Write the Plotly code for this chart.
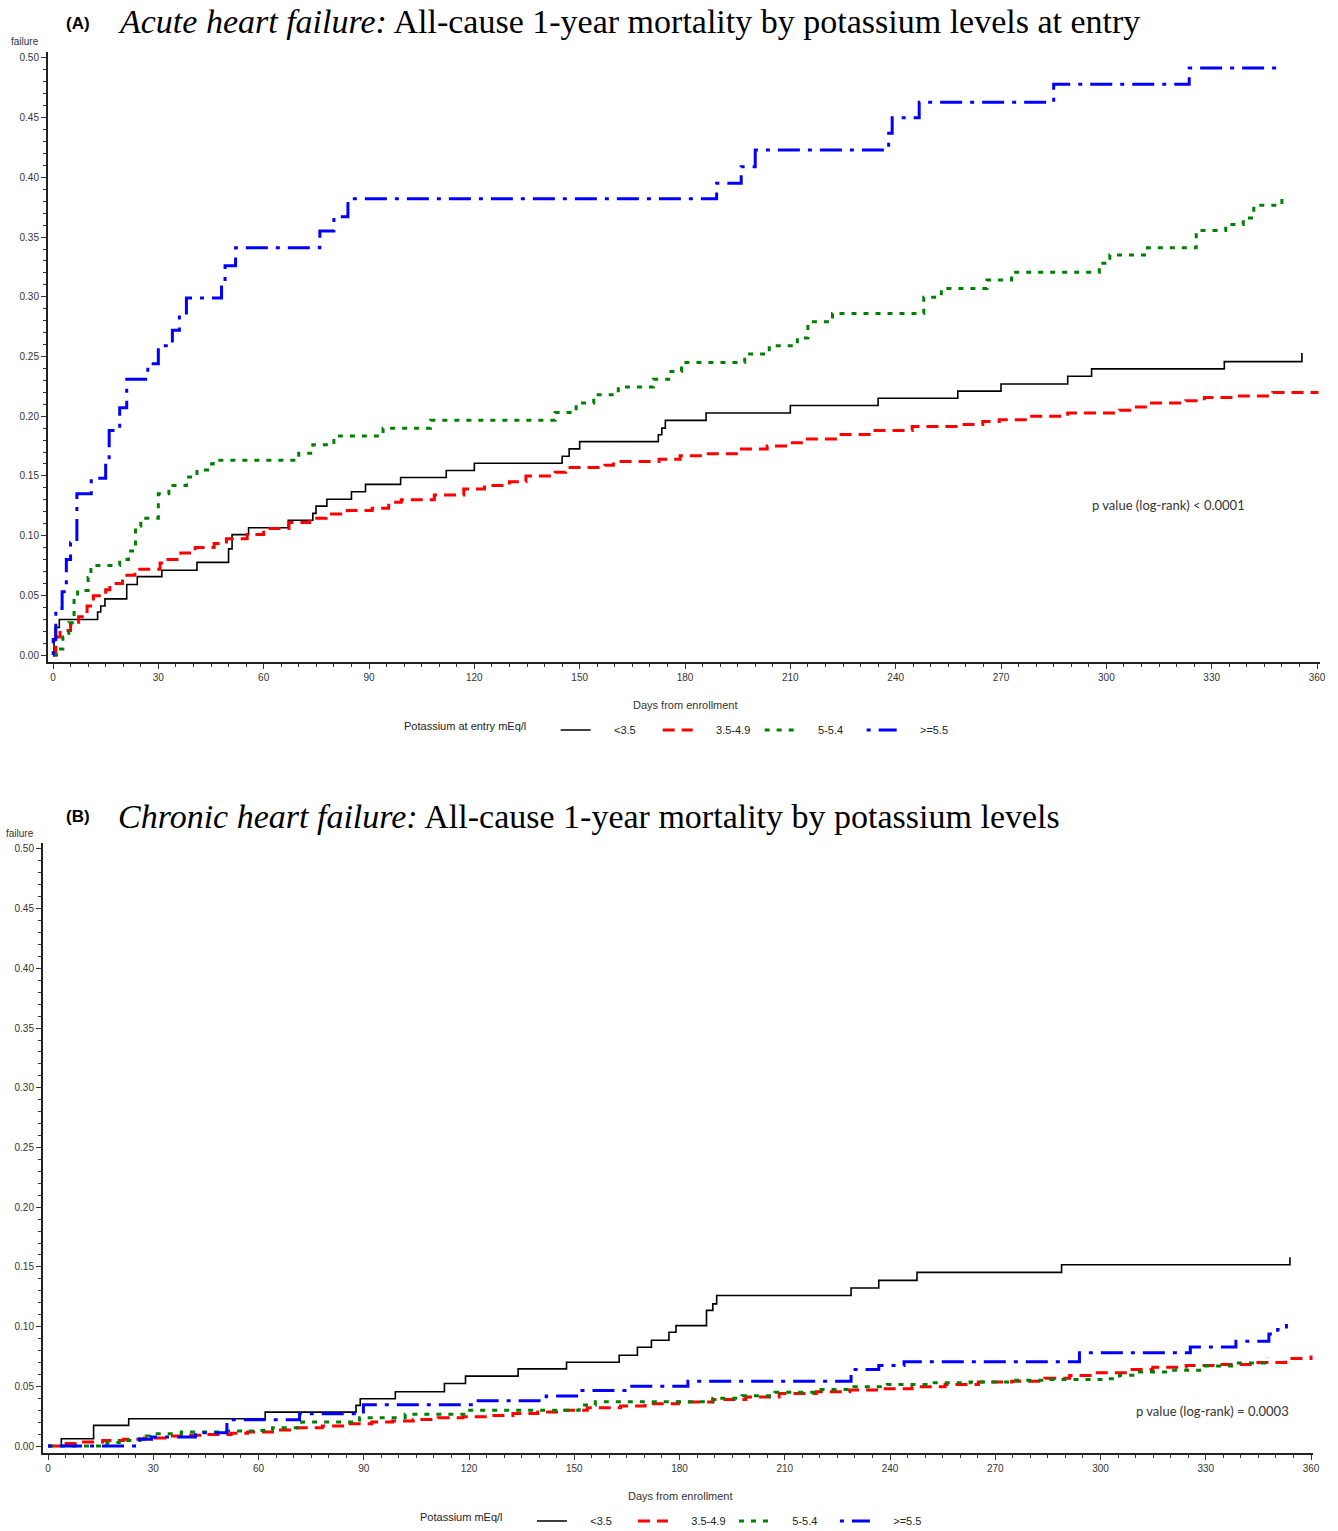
import plotly.graph_objects as go

W, H = 1338, 1531

# ---------------- Panel A: Acute heart failure ----------------
a_lt35_days = [0, 0.3, 0.6, 1.8, 12.7, 13.6, 14.8, 21, 24, 31, 41, 50, 51, 55.7, 67, 74, 74.9, 78, 85, 89, 99, 112, 120,
               145, 147, 150, 172.4, 173.4, 174.4, 186, 210, 235, 257.7, 270, 289, 295.8, 333.6, 355.7]
a_lt35_fail = [0, 0.012, 0.023, 0.0297, 0.036, 0.041, 0.047, 0.059, 0.0656, 0.071, 0.0776, 0.0889, 0.1008, 0.1066,
               0.1128, 0.1186, 0.1247, 0.1305, 0.1367, 0.1429, 0.1487, 0.1545, 0.1606, 0.1664, 0.1726, 0.1787, 0.1845,
               0.190, 0.1965, 0.2027, 0.209, 0.215, 0.221, 0.227, 0.2334, 0.2396, 0.2457, 0.2529]

a_35_49_days = [0, 0.8, 2, 5, 7.3, 9.7, 11.5, 15, 16.2, 19.8, 23.3, 30.5, 32.2, 36.4, 40.5, 45.9, 49.4, 55.3, 60, 67.2,
                73.1, 77.8, 83.8, 90.9, 95.6, 99.2, 108.6, 117, 122.9, 130, 134.7, 143, 146, 157.2, 159.6, 172.6,
                178.6, 185.7, 195.1, 203.4, 209.3, 214, 223.4, 232.9, 244.7, 258.9, 264.8, 269.5, 277.8, 289, 303.7,
                307.3, 312, 322.6, 327.9, 337.4, 347.4, 360]
a_35_49_fail = [0, 0.015, 0.0205, 0.0256, 0.032, 0.041, 0.0496, 0.0547, 0.0598, 0.0667, 0.0718, 0.077, 0.080, 0.0854,
                0.090, 0.0933, 0.0974, 0.101, 0.106, 0.111, 0.1145, 0.118, 0.121, 0.123, 0.128, 0.130, 0.134, 0.139,
                0.142, 0.145, 0.150, 0.153, 0.157, 0.159, 0.162, 0.164, 0.1668, 0.1685, 0.1726, 0.175, 0.1777, 0.181,
                0.1846, 0.188, 0.1914, 0.193, 0.1955, 0.197, 0.200, 0.2027, 0.205, 0.2078, 0.211, 0.213, 0.2157,
                0.217, 0.2198, 0.221]

a_5_54_days = [0, 1.5, 2.8, 4.5, 6, 7, 10, 10.8, 19, 21.5, 23.5, 25, 30, 33, 38, 41, 44, 45.6, 70, 74, 80, 94, 107.5,
               143, 149, 154, 161, 171, 176, 179, 197, 204, 212, 215, 222, 248, 253, 266, 273, 298, 301, 311.7, 325.6,
               334, 339, 342, 350]
a_5_54_fail = [0, 0.005, 0.015, 0.027, 0.047, 0.054, 0.065, 0.075, 0.080, 0.087, 0.108, 0.1145, 0.135, 0.142, 0.149,
               0.155, 0.160, 0.163, 0.169, 0.176, 0.1835, 0.190, 0.1965, 0.203, 0.211, 0.218, 0.2245, 0.231, 0.2375,
               0.245, 0.252, 0.259, 0.2655, 0.279, 0.286, 0.2997, 0.307, 0.314, 0.3206, 0.328, 0.335, 0.341, 0.3555,
               0.3606, 0.366, 0.3766, 0.382]

a_ge55_days = [0, 0.05, 0.8, 2.6, 3.8, 5, 6.8, 10.9, 15, 16, 19, 21, 27, 30, 34, 36, 38, 48, 49, 52, 76, 80, 84, 189,
               196, 200, 238, 239, 246.7, 285, 323.6, 348.6]
a_ge55_fail = [0, 0.013, 0.039, 0.053, 0.080, 0.094, 0.135, 0.148, 0.162, 0.188, 0.207, 0.231, 0.244, 0.259, 0.272,
               0.285, 0.299, 0.313, 0.326, 0.341, 0.355, 0.367, 0.382, 0.395, 0.409, 0.423, 0.437, 0.450, 0.463,
               0.478, 0.4915, 0.4915]

# ---------------- Panel B: Chronic heart failure ----------------
b_lt35_days = [0, 3.8, 13, 23, 61.9, 87.8, 89, 99, 113, 119, 134, 147.8, 162.8, 168, 172, 177, 179, 187.7, 189.5,
               190.6, 228.9, 236.8, 247.7, 288.9, 354]
b_lt35_fail = [0, 0.0061, 0.0173, 0.0228, 0.0284, 0.034, 0.0396, 0.0454, 0.0524, 0.0585, 0.0646, 0.0702, 0.076,
               0.0827, 0.0886, 0.0953, 0.1008, 0.1136, 0.119, 0.126, 0.1323, 0.1387, 0.1454, 0.1518, 0.158]

b_35_49_days = [0, 3.8, 9.7, 15.6, 21.5, 27.4, 33.3, 39.2, 45.1, 52.2, 56.9, 64, 71.1, 78.2, 85.2, 92.3, 98.2, 104.1,
                111.2, 118.3, 125.4, 132.5, 139.6, 146.6, 153.7, 163.2, 170.2, 179.7, 189.5, 198.9, 208.4, 219,
                228.5, 236.8, 246.3, 255.7, 265.2, 274.7, 284.1, 291.2, 298.3, 307.8, 314.9, 324.4, 333.8, 343.3,
                352.8, 360]
b_35_49_fail = [0, 0.002, 0.0033, 0.0047, 0.0056, 0.0067, 0.0084, 0.009, 0.0097, 0.0106, 0.0117, 0.0134, 0.0153,
                0.0167, 0.0187, 0.020, 0.0209, 0.0223, 0.0237, 0.0245, 0.0256, 0.0273, 0.0284, 0.030, 0.032, 0.0334,
                0.0354, 0.0368, 0.039, 0.041, 0.044, 0.0454, 0.0468, 0.048, 0.0496, 0.0515, 0.0535, 0.0543, 0.0568,
                0.059, 0.0613, 0.064, 0.066, 0.0674, 0.0682, 0.070, 0.0733, 0.0758]

b_5_54_days = [0, 16.8, 20.3, 26.2, 28, 29.2, 38, 49.8, 59.3, 64, 72.3, 88.8, 101.8, 119.5, 151.4, 156, 189.5, 197.8,
               207.2, 219, 229.7, 239.2, 251, 262.8, 274.7, 284.1, 300.7, 305.4, 310.2, 319.6, 329.1, 338.6, 347.5]
b_5_54_fail = [0, 0.003, 0.0047, 0.006, 0.0084, 0.0103, 0.0117, 0.0125, 0.013, 0.0153, 0.020, 0.0237, 0.0265, 0.030,
               0.0343, 0.037, 0.040, 0.042, 0.045, 0.0473, 0.0496, 0.0515, 0.053, 0.0535, 0.055, 0.0557, 0.0563,
               0.0593, 0.062, 0.0635, 0.0669, 0.0696, 0.0746]

b_ge55_days = [0, 26, 29.5, 42, 51, 52, 71.7, 89.9, 121.8, 142, 151.4, 165.5, 182.4, 228.9, 236.8, 244, 294, 325.6,
               338.6, 348, 350.5, 353]
b_ge55_fail = [0, 0.0056, 0.0075, 0.0112, 0.0205, 0.022, 0.027, 0.0345, 0.038, 0.0418, 0.0465, 0.050, 0.0543, 0.064,
               0.0674, 0.0705, 0.078, 0.083, 0.0877, 0.0939, 0.0975, 0.1022]

group_labels = ["&lt;3.5", "3.5-4.9", "5-5.4", "&gt;=5.5"]
colors = ["#000000", "#ff0000", "#008000", "#0000ff"]
dashes = ["solid", "12px,7px", "5px,7px", "4px,8px,22px,8px"]
widths = [1.6, 3, 3, 3]

x_ticks = list(range(0, 361, 30))
y_ticks = [0.00, 0.05, 0.10, 0.15, 0.20, 0.25, 0.30, 0.35, 0.40, 0.45, 0.50]


def px(x):
    return x / W


def py(y):
    return 1 - y / H


fig = go.Figure()
NB = "\u00a0"

panelA = [(a_lt35_days, a_lt35_fail), (a_35_49_days, a_35_49_fail), (a_5_54_days, a_5_54_fail),
          (a_ge55_days, a_ge55_fail)]
panelB = [(b_lt35_days, b_lt35_fail), (b_35_49_days, b_35_49_fail), (b_5_54_days, b_5_54_fail),
          (b_ge55_days, b_ge55_fail)]

for i, (xs, ys) in enumerate(panelA):
    fig.add_trace(go.Scatter(x=xs, y=ys, mode="lines", line_shape="hv", name=NB * 6 + group_labels[i],
                             line=dict(color=colors[i], width=widths[i], dash=dashes[i]),
                             xaxis="x", yaxis="y", legend="legend"))
for i, (xs, ys) in enumerate(panelB):
    fig.add_trace(go.Scatter(x=xs, y=ys, mode="lines", line_shape="hv", name=NB * 6 + group_labels[i],
                             line=dict(color=colors[i], width=widths[i], dash=dashes[i]),
                             xaxis="x2", yaxis="y2", legend="legend2"))

tickfont = dict(family="Liberation Sans, Arial", size=10, color="#333333")


def xax(domain, rng, anchor):
    return dict(domain=domain, range=rng, tickvals=x_ticks, ticks="outside", ticklen=5, tickwidth=1,
                tickcolor="#333", showline=True, linewidth=2, linecolor="#222", showgrid=False, zeroline=False,
                tickfont=tickfont, minor=dict(dtick=5, ticks="outside", ticklen=3, tickcolor="#333"),
                fixedrange=True, anchor=anchor, automargin=False)


def yax(domain, rng, anchor):
    return dict(domain=domain, range=rng, tickvals=y_ticks, tickformat=".2f", ticks="outside", ticklen=5,
                tickwidth=1, tickcolor="#333", showline=True, linewidth=2, linecolor="#222", showgrid=False,
                zeroline=False, tickfont=tickfont, anchor=anchor, automargin=False,
                minor=dict(dtick=0.01, ticks="outside", ticklen=3, tickcolor="#333"), fixedrange=True)


legfont = dict(family="Liberation Sans, Arial", size=11, color="#222")

fig.update_layout(
    width=W, height=H, autosize=False, margin=dict(l=0, r=0, t=0, b=0, pad=0, autoexpand=False),
    paper_bgcolor="white", plot_bgcolor="white",
    xaxis=xax([px(48), px(1320)], [-1.424, 360.85], "y"),
    yaxis=yax([py(662), py(52)], [-0.00586, 0.505], "x"),
    xaxis2=xax([px(43), px(1313)], [-1.425, 360.57], "y2"),
    yaxis2=yax([py(1453), py(843)], [-0.00586, 0.505], "x2"),
    legend=dict(orientation="h", x=px(402), y=py(730), xanchor="left", yanchor="middle", font=legfont,
                title=dict(text="Potassium at entry mEq/l" + NB * 7, side="left", font=legfont),
                entrywidth=57, entrywidthmode="pixels", bgcolor="rgba(0,0,0,0)"),
    legend2=dict(orientation="h", x=px(418), y=py(1521), xanchor="left", yanchor="middle", font=legfont,
                 title=dict(text="Potassium mEq/l" + NB * 7, side="left", font=legfont),
                 entrywidth=56, entrywidthmode="pixels", bgcolor="rgba(0,0,0,0)"),
    showlegend=True,
)


def ann(text, x, y, size, family, color="#000", xanchor="left"):
    fig.add_annotation(text=text, x=px(x), y=py(y), xref="paper", yref="paper", showarrow=False,
                       xanchor=xanchor, yanchor="middle", font=dict(size=size, family=family, color=color))


ann("<b>(A)</b>", 64, 23, 17, "Liberation Sans, Arial")
ann("<i>Acute heart failure:</i> All-cause 1-year mortality by potassium levels at entry", 116, 22, 34,
    "Liberation Serif, Times New Roman")
ann("<b>(B)</b>", 64, 816, 17, "Liberation Sans, Arial")
ann("<i>Chronic heart failure:</i> All-cause 1-year mortality by potassium levels", 116, 816, 34,
    "Liberation Serif, Times New Roman")
ann("failure", 9, 41, 10, "Liberation Sans, Arial", "#333")
ann("failure", 4, 833, 10, "Liberation Sans, Arial", "#333")
ann("Days from enrollment", 685, 705, 11, "Liberation Sans, Arial", "#333", "center")
ann("Days from enrollment", 680, 1496, 11, "Liberation Sans, Arial", "#333", "center")
ann("p value (log-rank) &lt; 0.0001", 1090, 505, 13, "Lato, Open Sans", "#333")
ann("p value (log-rank) = 0.0003", 1134, 1411, 13, "Lato, Open Sans", "#333")

fig.write_html(
    "out.html",
    config={"displayModeBar": False, "staticPlot": True},
    post_script=("document.documentElement.style.margin='0';document.body.style.margin='0';"
                 "document.body.style.padding='0';document.documentElement.style.overflow='hidden';"
                 "document.body.style.overflow='hidden';"
                 "var gd=document.getElementById('{plot_id}');gd.style.position='fixed';"
                 "gd.style.left='0px';gd.style.top='0px';"),
)
